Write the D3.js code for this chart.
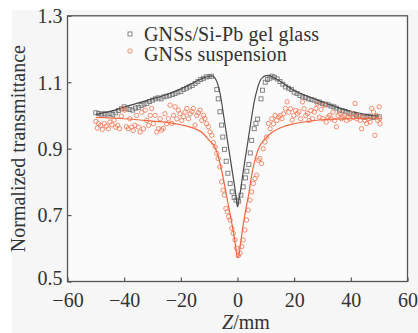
<!DOCTYPE html>
<html>
<head>
<meta charset="utf-8">
<script src="https://cdn.jsdelivr.net/npm/d3@7"></script>
<style>
  body { margin: 0; background: #fff; }
  svg { display: block; }
</style>
</head>
<body>
<div id="chart"></div>
<script>
// tick labels
const xTicks = [-60, -40, -20, 0, 20, 40, 60];
const yTicks = [0.5, 0.7, 0.9, 1.1, 1.3];

// GNSs/Si-Pb gel glass, measured points [z, T]
const glassPoints = [
  [-50,1.008],[-49,1.006],[-48,1.004],[-47,1.005],[-46,1.004],[-45,1.006],[-44,1.003],[-43,1.008],
  [-42,1.015],[-41,1.02],[-40,1.026],[-39,1.02],[-38,1.018],[-37,1.016],[-36,1.022],[-35,1.024],
  [-34,1.03],[-33,1.034],[-32,1.036],[-31,1.042],[-30,1.046],[-29,1.05],[-28,1.053],[-27,1.05],
  [-26,1.056],[-25,1.058],[-24,1.06],[-23,1.063],[-22,1.066],[-21,1.07],[-20,1.072],[-19,1.078],
  [-18,1.082],[-17,1.086],[-16,1.09],[-15,1.096],[-14,1.102],[-13,1.108],[-12,1.112],[-11,1.116],
  [-10,1.117],[-9.2,1.118],[-7.3,1.078],[-6.8,1.05],[-6.2,1.011],[-5.6,0.971],[-5.2,0.935],
  [-4.6,0.898],[-4.0,0.862],[-3.4,0.826],[-2.6,0.795],[-1.9,0.77],[-1.2,0.753],[-0.5,0.745],
  [0.4,0.742],[1.2,0.76],[2.0,0.785],[2.8,0.812],[3.3,0.832],[4.0,0.852],[4.5,0.887],[5.0,0.925],
  [5.9,0.96],[6.5,0.976],[7.1,0.989],[8.3,1.05],[8.8,1.076],[9.8,1.1],[10.6,1.108],[11.4,1.112],
  [12.2,1.118],[13,1.115],[14,1.11],[15,1.102],[16,1.094],[17,1.086],[18,1.082],[19,1.078],
  [20,1.07],[21,1.066],[22,1.06],[23,1.056],[24,1.054],[25,1.05],[26,1.048],[27,1.046],
  [28,1.042],[29,1.04],[30,1.036],[31,1.034],[32,1.032],[33,1.028],[34,1.026],[35,1.022],
  [36,1.016],[37,1.014],[38,1.012],[39,1.008],[40,1.006],[41,1.004],[42,1.0],[43,0.998],
  [44,0.996],[45,0.994],[46,0.998],[47,0.996],[48,0.994],[49,0.996],[50,0.996]
];

// GNSs/Si-Pb gel glass, fitted curve
const glassFit = [
  [-50,1.003],[-45,1.012],[-40,1.025],[-35,1.038],[-30,1.05],[-25,1.063],[-20,1.08],[-17,1.092],
  [-14,1.105],[-12,1.113],[-10,1.118],[-9,1.119],[-8,1.113],[-7,1.095],[-6,1.06],[-5,1.005],
  [-4,0.95],[-3,0.895],[-2,0.84],[-1,0.785],[-0.5,0.755],[0,0.725],[0.5,0.745],[1,0.77],
  [2,0.83],[3,0.885],[4,0.94],[5,0.995],[6,1.045],[7,1.08],[8,1.105],[9,1.115],[10,1.12],
  [11,1.121],[12,1.117],[14,1.108],[17,1.092],[20,1.075],[25,1.057],[30,1.04],[35,1.025],
  [40,1.012],[45,1.003],[50,0.997]
];

// GNSs suspension, measured points [z, T]
const suspPoints = [
  [-50,0.982],[-49.5,0.962],[-49,0.975],[-48.3,0.97],[-47.7,0.958],[-47,0.975],[-46.3,0.968],
  [-45.6,0.96],[-45,0.98],[-44.3,0.972],[-43.6,0.986],[-43,0.965],[-42.3,0.97],[-41.6,0.96],
  [-41,0.998],[-40.4,1.02],[-39.8,1.016],[-39.2,0.966],[-38.6,0.96],[-38,0.99],[-37.4,0.965],
  [-36.8,0.955],[-36.2,0.97],[-35.6,1.0],[-35,0.965],[-34.4,0.95],[-33.8,1.01],[-33.2,0.96],
  [-32.6,1.016],[-32,0.985],[-31.4,0.97],[-30.8,1.0],[-30.3,1.021],[-29.7,0.975],[-29.1,1.0],
  [-28.5,0.95],[-27.9,0.96],[-27.3,0.99],[-26.8,0.956],[-26.2,0.961],[-25.6,1.005],[-25,0.975],
  [-24.4,0.99],[-23.8,1.031],[-23.2,0.976],[-22.6,1.0],[-22,1.026],[-21.4,0.99],[-20.9,1.016],
  [-20.3,1.005],[-19.7,0.985],[-19.1,0.996],[-18.5,1.01],[-17.9,1.021],[-17.3,0.99],[-16.7,1.005],
  [-16.1,1.012],[-15.6,1.021],[-15,0.971],[-14.4,1.0],[-13.8,1.008],[-13.2,1.016],[-12.6,0.985],
  [-12,1.0],[-11.5,0.991],[-10.9,0.975],[-10.3,0.966],[-9.7,0.95],[-9.1,0.94],[-8.5,0.918],
  [-7.9,0.905],[-7.3,0.886],[-6.8,0.87],[-6.2,0.845],[-5.6,0.8],[-5.1,0.775],[-4.6,0.76],
  [-4.1,0.72],[-3.6,0.71],[-3.1,0.695],[-2.6,0.685],[-2,0.66],[-1.5,0.645],[-0.9,0.625],
  [-0.3,0.6],[0.3,0.578],[0.9,0.585],[1.5,0.605],[2,0.625],[2.6,0.655],[3.2,0.685],[3.8,0.715],
  [4.4,0.745],[5,0.77],[5.6,0.795],[6.2,0.81],[6.8,0.82],[7.3,0.865],[7.9,0.87],[8.5,0.855],
  [9.1,0.9],[9.7,0.92],[10.3,0.935],[10.9,0.976],[11.5,0.96],[12.1,0.99],[12.7,0.975],[13.3,1.0],
  [13.9,0.985],[14.5,0.995],[15.1,1.0],[15.7,0.99],[16.3,1.005],[16.9,1.021],[17.5,1.041],
  [18.1,1.01],[18.7,1.02],[19.3,0.986],[19.9,1.0],[20.5,1.015],[21.1,1.005],[21.7,1.011],
  [22.3,0.99],[22.9,1.041],[23.5,1.02],[24.1,1.0],[24.7,1.006],[25.3,0.985],[25.9,1.015],
  [26.5,0.99],[27.1,1.01],[27.7,1.021],[28.3,1.035],[28.9,0.995],[29.5,1.018],[30.1,0.99],
  [30.7,1.031],[31.3,0.98],[31.9,0.995],[32.5,1.0],[33.1,0.99],[33.7,1.01],[34.3,0.985],
  [34.9,0.966],[35.5,1.0],[36.1,1.006],[36.7,0.99],[37.3,0.995],[37.9,1.0],[38.5,0.985],
  [39.1,0.995],[39.7,0.99],[40.3,1.006],[40.9,0.995],[41.5,1.036],[42.1,0.99],[42.7,1.0],
  [43.3,0.985],[43.8,0.96],[44.4,0.995],[45,0.985],[45.6,0.976],[46.2,0.99],[46.8,0.98],
  [47.4,1.021],[48,1.01],[48.5,0.94],[49,1.0],[49.5,0.985],[50,1.026],[50.3,0.975],[50.2,0.99]
];

// GNSs suspension, fitted curve
const suspFit = [
  [-50,0.994],[-40,0.99],[-30,0.983],[-25,0.979],[-20,0.972],[-15,0.96],[-12,0.945],[-10,0.925],
  [-8,0.905],[-7,0.882],[-6,0.85],[-5,0.81],[-4,0.765],[-3,0.72],[-2,0.675],[-1,0.625],
  [-0.5,0.595],[0,0.572],[0.5,0.58],[1,0.61],[2,0.67],[3,0.72],[4,0.765],[5,0.82],[6,0.86],
  [7,0.89],[8,0.91],[10,0.932],[12,0.948],[15,0.962],[20,0.975],[25,0.982],[30,0.987],
  [40,0.99],[50,0.992]
];

const legendLabels = ["GNSs/Si-Pb gel glass", "GNSs suspension"];

const width = 418, height = 333;
const mLeft = 67.5, mRight = 407.5, mTop = 15.8, mBottom = 281.5;
const grayMark = "#7a7a7a", grayLine = "#4a4a4a";
const orangeMark = "#f3805f", orangeLine = "#f2673f";
const font = "'Liberation Serif', 'Times New Roman', serif";

const svg = d3.select("#chart").append("svg")
  .attr("width", width)
  .attr("height", height);

svg.append("rect")
  .attr("x", 12).attr("y", 10)
  .attr("width", width - 12).attr("height", height - 10)
  .attr("fill", "#f6f6f6");

svg.append("rect")
  .attr("x", mLeft).attr("y", mTop)
  .attr("width", mRight - mLeft).attr("height", mBottom - mTop)
  .attr("fill", "#fbfbfb");

const x = d3.scaleLinear().domain([-60, 60]).range([mLeft, mRight]);
const y = d3.scaleLinear().domain([0.5, 1.3]).range([mBottom, mTop]);

const xAxis = d3.axisBottom(x)
  .tickValues(xTicks)
  .tickSizeInner(-4)
  .tickSizeOuter(0)
  .tickPadding(8);

const yAxis = d3.axisLeft(y)
  .tickValues(yTicks)
  .tickFormat(d3.format(".1f"))
  .tickSizeInner(-4)
  .tickSizeOuter(0)
  .tickPadding(5);

const gx = svg.append("g")
  .attr("transform", "translate(0," + mBottom + ")")
  .call(xAxis);
const gy = svg.append("g")
  .attr("transform", "translate(" + mLeft + ",0)")
  .call(yAxis);

[gx, gy].forEach(g => {
  g.select(".domain").remove();
  g.selectAll(".tick line").attr("stroke", "#555").attr("stroke-width", 1.2);
  g.selectAll(".tick text")
    .style("font-family", font)
    .style("font-size", "20px")
    .attr("fill", "#333");
});
gx.selectAll(".tick text").attr("dy", "0.85em");
gy.selectAll(".tick text").attr("dy", d => d === 0.5 ? "0.14em" : "0.34em");

// frame
svg.append("rect")
  .attr("x", mLeft).attr("y", mTop)
  .attr("width", mRight - mLeft).attr("height", mBottom - mTop)
  .attr("fill", "none")
  .attr("stroke", "#555")
  .attr("stroke-width", 1.3);

const line = d3.line()
  .x(d => x(d[0]))
  .y(d => y(d[1]))
  .curve(d3.curveMonotoneX);

// glass series
svg.append("g")
  .selectAll("rect")
  .data(glassPoints)
  .enter()
  .append("rect")
  .attr("x", d => x(d[0]) - 2)
  .attr("y", d => y(d[1]) - 2)
  .attr("width", 4)
  .attr("height", 4)
  .attr("fill", "none")
  .attr("stroke", grayMark)
  .attr("stroke-width", 0.9);

svg.append("path")
  .datum(glassFit)
  .attr("d", line)
  .attr("fill", "none")
  .attr("stroke", grayLine)
  .attr("stroke-width", 1.2);

// suspension series
svg.append("g")
  .selectAll("circle")
  .data(suspPoints)
  .enter()
  .append("circle")
  .attr("cx", d => x(d[0]))
  .attr("cy", d => y(d[1]))
  .attr("r", 2.2)
  .attr("fill", "none")
  .attr("stroke", orangeMark)
  .attr("stroke-width", 0.9);

svg.append("path")
  .datum(suspFit)
  .attr("d", line)
  .attr("fill", "none")
  .attr("stroke", orangeLine)
  .attr("stroke-width", 1.2);

// legend
const legend = svg.append("g");
legend.append("rect")
  .attr("x", 128).attr("y", 32)
  .attr("width", 4).attr("height", 4)
  .attr("fill", "none")
  .attr("stroke", grayMark)
  .attr("stroke-width", 0.9);
legend.append("circle")
  .attr("cx", 130).attr("cy", 51)
  .attr("r", 2.2)
  .attr("fill", "none")
  .attr("stroke", orangeMark)
  .attr("stroke-width", 0.9);
legend.selectAll("text")
  .data(legendLabels)
  .enter()
  .append("text")
  .attr("x", 144)
  .attr("y", (d, i) => 41 + i * 20)
  .style("font-family", font)
  .style("font-size", "20px")
  .style("letter-spacing", "0.15px")
  .attr("fill", "#333")
  .text(d => d);

// axis titles
svg.append("text")
  .attr("transform", "translate(25," + ((mTop + mBottom) / 2) + ") rotate(-90)")
  .attr("text-anchor", "middle")
  .style("font-family", font)
  .style("font-size", "20px")
  .attr("fill", "#333")
  .text("Normalized transmittance");

const xt = svg.append("text")
  .attr("x", 246)
  .attr("y", 328.6)
  .attr("text-anchor", "middle")
  .style("font-family", font)
  .style("font-size", "20px")
  .attr("fill", "#333");
xt.append("tspan").style("font-style", "italic").text("Z");
xt.append("tspan").text("/mm");
</script>
</body>
</html>
